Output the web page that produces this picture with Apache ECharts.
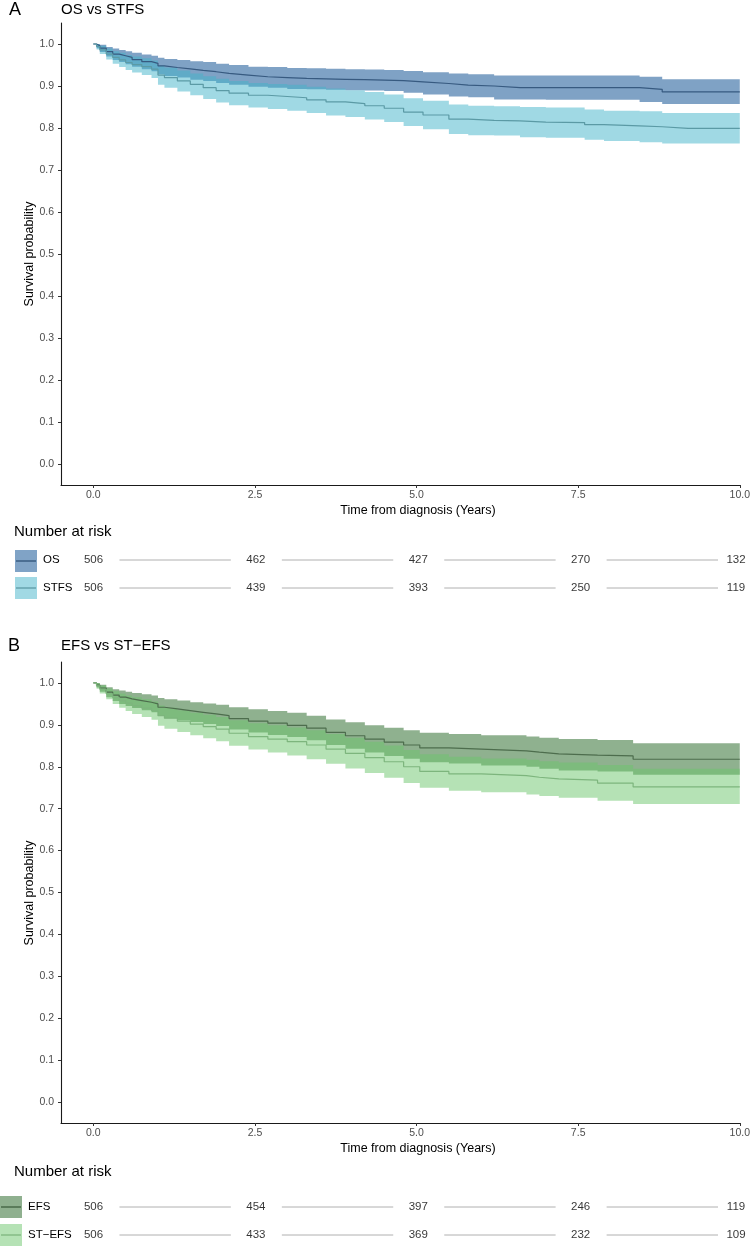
<!DOCTYPE html>
<html>
<head>
<meta charset="utf-8">
<script src="https://cdn.jsdelivr.net/npm/echarts@6/dist/echarts.min.js"></script>
<style>
html,body{margin:0;padding:0;background:#fff;}
#c{width:753px;height:1246px;}
</style>
</head>
<body>
<div id="c"></div>
<script>
// ---------- Panel A data (OS vs STFS) ----------
const tA = [0, 0.05, 0.1, 0.2, 0.3, 0.4, 0.5, 0.6, 0.75, 0.9, 1.0, 1.1, 1.3, 1.5, 1.7, 1.9, 2.1, 2.4, 2.7, 3.0, 3.3, 3.6, 3.9, 4.2, 4.5, 4.8, 5.1, 5.5, 5.8, 6.2, 6.6, 7.0, 7.6, 7.9, 8.45, 8.8, 9.2, 10];
const osS  = [1, .996, .990, .982, .976, .972, .968, .963, .958, .954, .948, .944, .941, .937, .934, .930, .926, .922, .920, .918, .917, .916, .915, .914, .913, .910, .906, .902, .900, .896, .896, .896, .896, .896, .892, .886, .886, .886];
const osLo = [1, .990, .981, .970, .962, .957, .952, .946, .940, .935, .928, .924, .920, .915, .912, .907, .903, .898, .896, .893, .892, .891, .890, .889, .888, .884, .880, .875, .873, .868, .868, .867, .867, .867, .862, .857, .857, .857];
const osHi = [1, 1.0, .998, .993, .989, .986, .983, .979, .975, .972, .967, .964, .962, .959, .957, .953, .950, .946, .945, .943, .942, .941, .940, .939, .938, .936, .933, .930, .928, .925, .925, .925, .925, .925, .922, .916, .916, .916];
const stfsS  = [1, .994, .986, .976, .968, .962, .956, .951, .946, .940, .926, .920, .912, .904, .896, .889, .883, .878, .875, .872, .867, .862, .858, .853, .847, .838, .831, .821, .818, .817, .814, .813, .808, .805, .803, .799, .799, .799];
const stfsLo = [1, .987, .976, .963, .953, .945, .938, .932, .926, .919, .903, .896, .887, .878, .869, .861, .854, .849, .845, .841, .836, .830, .826, .820, .814, .805, .797, .786, .783, .782, .778, .777, .772, .769, .766, .763, .763, .763];
const stfsHi = [1, 1.0, .996, .989, .983, .979, .974, .970, .966, .961, .949, .944, .937, .930, .923, .917, .912, .907, .905, .903, .898, .894, .890, .886, .880, .871, .865, .856, .853, .852, .850, .849, .844, .841, .840, .836, .836, .836];

// ---------- Panel B data (EFS vs ST-EFS) ----------
const tB = [0, 0.05, 0.1, 0.2, 0.3, 0.4, 0.5, 0.6, 0.75, 0.9, 1.0, 1.1, 1.3, 1.5, 1.7, 1.9, 2.1, 2.4, 2.7, 3.0, 3.3, 3.6, 3.9, 4.2, 4.5, 4.8, 5.05, 5.5, 6.0, 6.7, 6.9, 7.2, 7.8, 8.35, 9.0, 10];
const efsS  = [1, .995, .988, .978, .971, .966, .962, .958, .954, .950, .942, .938, .934, .930, .926, .922, .915, .909, .904, .899, .892, .882, .874, .866, .859, .852, .845, .842, .838, .835, .831, .828, .826, .818, .818, .818];
const efsLo = [1, .989, .979, .966, .957, .950, .945, .940, .935, .930, .921, .916, .911, .907, .902, .897, .889, .882, .876, .871, .863, .852, .843, .834, .826, .819, .811, .808, .803, .800, .795, .791, .789, .781, .781, .781];
const efsHi = [1, 1.0, .996, .990, .985, .982, .979, .976, .973, .970, .964, .961, .958, .954, .951, .948, .942, .937, .933, .929, .922, .913, .906, .899, .893, .887, .881, .878, .875, .872, .869, .866, .864, .856, .856, .856];
const stefsS  = [1, .993, .985, .974, .965, .958, .952, .946, .940, .934, .922, .916, .909, .902, .896, .890, .880, .872, .866, .860, .852, .842, .832, .822, .812, .800, .789, .783, .779, .775, .771, .768, .761, .752, .752, .752];
const stefsLo = [1, .986, .975, .961, .950, .941, .933, .926, .919, .912, .898, .891, .883, .875, .868, .861, .850, .841, .834, .827, .818, .807, .796, .785, .774, .761, .750, .743, .739, .734, .730, .726, .719, .711, .711, .711];
const stefsHi = [1, 1.0, .994, .987, .980, .975, .970, .966, .961, .956, .946, .941, .935, .929, .924, .919, .911, .904, .899, .894, .887, .878, .869, .860, .851, .840, .830, .824, .820, .817, .813, .810, .804, .795, .795, .795];

// ---------- Risk tables ----------
const riskTimes = [0, 2.5, 5, 7.5, 10];
const riskOS    = [506, 462, 427, 270, 132];
const riskSTFS  = [506, 439, 393, 250, 119];
const riskEFS   = [506, 454, 397, 246, 119];
const riskSTEFS = [506, 433, 369, 232, 109];

// ---------- Tick labels ----------
const yTicks = [0, 0.1, 0.2, 0.3, 0.4, 0.5, 0.6, 0.7, 0.8, 0.9, 1.0];
const xTicks = [0, 2.5, 5, 7.5, 10];

const FONT = "'Liberation Sans', Arial, Helvetica, sans-serif";

const chart = echarts.init(document.getElementById('c'), null, {renderer: 'canvas'});

function mainX(gi) {
  return {
    type: 'value', gridIndex: gi, min: -0.5, max: 10,
    axisLine: {show: true, onZero: false, lineStyle: {color: '#1a1a1a', width: 1.1}},
    axisTick: {show: true, length: 3, customValues: xTicks, lineStyle: {color: '#333', width: 1}},
    axisLabel: {customValues: xTicks, margin: 5, color: '#4d4d4d', fontSize: 10.5, fontFamily: FONT,
      formatter: v => v.toFixed(1)},
    splitLine: {show: false}
  };
}
function mainY(gi) {
  return {
    type: 'value', gridIndex: gi, min: -0.05, max: 1.05,
    axisLine: {show: true, onZero: false, lineStyle: {color: '#1a1a1a', width: 1.1}},
    axisTick: {show: true, length: 3, customValues: yTicks, lineStyle: {color: '#333', width: 1}},
    axisLabel: {customValues: yTicks, margin: 7, color: '#4d4d4d', fontSize: 10.5, fontFamily: FONT,
      formatter: v => v.toFixed(1)},
    splitLine: {show: false}
  };
}
function riskX(gi) {
  return {type: 'value', gridIndex: gi, min: -0.5, max: 10, show: false};
}
function riskY(gi) {
  return {type: 'value', gridIndex: gi, min: 1, max: 2, inverse: true, show: false};
}

function bandSeries(t, lo, hi, color, axisIdx) {
  return {
    type: 'custom', xAxisIndex: axisIdx, yAxisIndex: axisIdx, z: 1, silent: true,
    data: t.map((x, i) => [x, lo[i], hi[i]]),
    encode: {x: 0, y: [1, 2]},
    renderItem: function (params, api) {
      if (params.dataIndex !== 0) return null;
      const up = [], dn = [];
      for (let i = 0; i < t.length; i++) {
        const x0 = t[i];
        const x1 = i < t.length - 1 ? t[i + 1] : t[i];
        up.push(api.coord([x0, hi[i]]), api.coord([x1, hi[i]]));
        dn.push(api.coord([x0, lo[i]]), api.coord([x1, lo[i]]));
      }
      return {type: 'polygon', shape: {points: up.concat(dn.reverse())}, style: {fill: color}};
    }
  };
}
function lineSeries(t, s, color, axisIdx) {
  return {
    type: 'line', xAxisIndex: axisIdx, yAxisIndex: axisIdx, z: 3, step: 'end',
    showSymbol: false, symbol: 'none', silent: true,
    lineStyle: {color: color, width: 1.2},
    data: t.map((x, i) => [x, s[i]])
  };
}
function riskNumbers(rows, axisIdx) {
  const data = [];
  rows.forEach((arr, r) => {
    riskTimes.forEach((t, i) => {
      const item = {value: [t, r + 1, arr[i]]};
      if (i === riskTimes.length - 1) item.label = {offset: [-7, 0]};
      data.push(item);
    });
  });
  return {
    type: 'scatter', xAxisIndex: axisIdx, yAxisIndex: axisIdx, symbolSize: 1, silent: true,
    itemStyle: {color: 'rgba(0,0,0,0)'},
    label: {show: true, position: 'inside', color: '#000', fontSize: 11.5, fontFamily: FONT,
      formatter: p => String(p.value[2])},
    data: data
  };
}
function riskLines(nRows, axisIdx) {
  const data = [];
  for (let r = 1; r <= nRows; r++) {
    for (let i = 0; i < riskTimes.length - 1; i++) data.push([riskTimes[i], riskTimes[i + 1], r]);
  }
  return {
    type: 'custom', xAxisIndex: axisIdx, yAxisIndex: axisIdx, silent: true,
    encode: {x: [0, 1], y: 2},
    data: data,
    renderItem: function (params, api) {
      const p1 = api.coord([api.value(0), api.value(2)]);
      const p2 = api.coord([api.value(1), api.value(2)]);
      return {type: 'line', shape: {x1: p1[0] + 26, y1: p1[1], x2: p2[0] - 25, y2: p2[1]},
        style: {stroke: '#b0b0b0', lineWidth: 1}};
    }
  };
}

const OS_FILL = 'rgba(0,70,140,0.5)', STFS_FILL = 'rgba(66,180,202,0.5)';
const EFS_FILL = 'rgba(31,99,31,0.5)', STEFS_FILL = 'rgba(107,197,107,0.5)';

function keyBox(x, y, fill, lineColor) {
  return [
    {type: 'rect', shape: {x: x, y: y, width: 22, height: 22}, style: {fill: fill}},
    {type: 'line', shape: {x1: x + 1, y1: y + 11, x2: x + 21, y2: y + 11}, style: {stroke: lineColor, lineWidth: 1.3}}
  ];
}
function txt(x, y, text, size, color, align) {
  return {type: 'text', x: x, y: y, style: {text: text, fontSize: size, fontFamily: FONT, fill: color || '#000',
    textAlign: align || 'left', textVerticalAlign: 'middle'}};
}
function vtxt(x, y, text, size) {
  return {type: 'text', x: x, y: y, rotation: Math.PI / 2,
    style: {text: text, fontSize: size, fontFamily: FONT, fill: '#000', textAlign: 'center', textVerticalAlign: 'middle'}};
}

const option = {
  animation: false,
  backgroundColor: '#fff',
  grid: [
    {left: 61, right: 10, top: 23, height: 462},
    {left: 61, right: 10, top: 560, height: 28},
    {left: 61, right: 10, top: 662, height: 461},
    {left: 61, right: 10, top: 1207, height: 28}
  ],
  xAxis: [mainX(0), riskX(1), mainX(2), riskX(3)],
  yAxis: [mainY(0), riskY(1), mainY(2), riskY(3)],
  series: [
    bandSeries(tA, osLo, osHi, OS_FILL, 0),
    bandSeries(tA, stfsLo, stfsHi, STFS_FILL, 0),
    lineSeries(tA, osS, '#375a80', 0),
    lineSeries(tA, stfsS, '#5b9aa5', 0),
    riskLines(2, 1),
    riskNumbers([riskOS, riskSTFS], 1),
    bandSeries(tB, efsLo, efsHi, EFS_FILL, 2),
    bandSeries(tB, stefsLo, stefsHi, STEFS_FILL, 2),
    lineSeries(tB, efsS, '#4d6d4d', 2),
    lineSeries(tB, stefsS, '#7db57d', 2),
    riskLines(2, 3),
    riskNumbers([riskEFS, riskSTEFS], 3)
  ],
  graphic: [
    txt(9, 10, 'A', 18),
    txt(61, 10, 'OS vs STFS', 15),
    vtxt(30, 254, 'Survival probability', 12.5),
    txt(418, 511, 'Time from diagnosis (Years)', 12.5, '#000', 'center'),
    txt(14, 532, 'Number at risk', 15),
    ...keyBox(15, 550, '#80a3c6', '#2f5278'),
    ...keyBox(15, 577, '#a1d9e4', '#5b9aa5'),
    txt(43, 560, 'OS', 11.5),
    txt(43, 588, 'STFS', 11.5),

    txt(8, 646, 'B', 18),
    txt(61, 646, 'EFS vs ST\u2212EFS', 15),
    vtxt(30, 893, 'Survival probability', 12.5),
    txt(418, 1149, 'Time from diagnosis (Years)', 12.5, '#000', 'center'),
    txt(14, 1172, 'Number at risk', 15),
    ...keyBox(0, 1196, '#8fb08f', '#3f5f3f'),
    ...keyBox(0, 1224, '#b5e2b5', '#7db57d'),
    txt(28, 1207, 'EFS', 11.5),
    txt(28, 1235, 'ST\u2212EFS', 11.5)
  ]
};
chart.setOption(option);
</script>
</body>
</html>
